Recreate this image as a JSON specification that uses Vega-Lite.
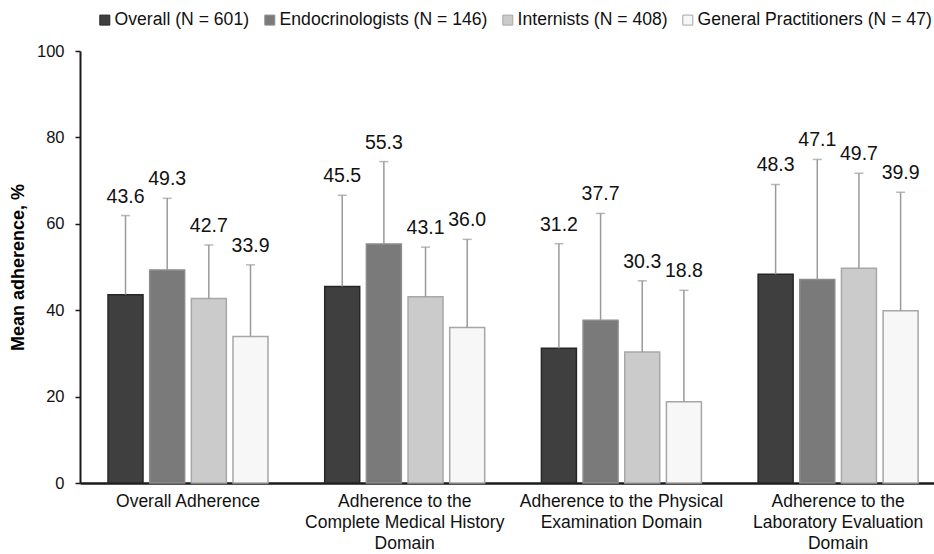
{
  "$schema": "https://vega.github.io/schema/vega-lite/v6.json",
  "width": 854,
  "height": 432,
  "autosize": {"type": "none"},
  "padding": {"left": 80, "top": 51, "right": 0, "bottom": 71},
  "config": {
    "view": {"stroke": null},
    "font": "Liberation Sans",
    "text": {"font": "Liberation Sans"}
  },
  "data": {
    "values": [
      {"domain": "Overall Adherence", "group": "Overall (N = 601)", "value": 43.6, "upper": 61.9},
      {"domain": "Overall Adherence", "group": "Endocrinologists (N = 146)", "value": 49.3, "upper": 65.9},
      {"domain": "Overall Adherence", "group": "Internists (N = 408)", "value": 42.7, "upper": 55.1},
      {"domain": "Overall Adherence", "group": "General Practitioners (N = 47)", "value": 33.9, "upper": 50.5},
      {"domain": "Adherence to the Complete Medical History Domain", "group": "Overall (N = 601)", "value": 45.5, "upper": 66.6},
      {"domain": "Adherence to the Complete Medical History Domain", "group": "Endocrinologists (N = 146)", "value": 55.3, "upper": 74.4},
      {"domain": "Adherence to the Complete Medical History Domain", "group": "Internists (N = 408)", "value": 43.1, "upper": 54.6},
      {"domain": "Adherence to the Complete Medical History Domain", "group": "General Practitioners (N = 47)", "value": 36.0, "upper": 56.4},
      {"domain": "Adherence to the Physical Examination Domain", "group": "Overall (N = 601)", "value": 31.2, "upper": 55.4},
      {"domain": "Adherence to the Physical Examination Domain", "group": "Endocrinologists (N = 146)", "value": 37.7, "upper": 62.4},
      {"domain": "Adherence to the Physical Examination Domain", "group": "Internists (N = 408)", "value": 30.3, "upper": 46.8},
      {"domain": "Adherence to the Physical Examination Domain", "group": "General Practitioners (N = 47)", "value": 18.8, "upper": 44.6},
      {"domain": "Adherence to the Laboratory Evaluation Domain", "group": "Overall (N = 601)", "value": 48.3, "upper": 69.1},
      {"domain": "Adherence to the Laboratory Evaluation Domain", "group": "Endocrinologists (N = 146)", "value": 47.1, "upper": 74.9},
      {"domain": "Adherence to the Laboratory Evaluation Domain", "group": "Internists (N = 408)", "value": 49.7, "upper": 71.7},
      {"domain": "Adherence to the Laboratory Evaluation Domain", "group": "General Practitioners (N = 47)", "value": 39.9, "upper": 67.3}
    ]
  },
  "encoding": {
    "x": {
      "field": "domain",
      "type": "nominal",
      "sort": null,
      "scale": {"paddingInner": 0.2617, "paddingOuter": 0.1013, "align": 0.638},
      "axis": {
        "title": null,
        "labelAngle": 0,
        "ticks": false,
        "tickSize": 0,
        "domainColor": "#1a1a1a",
        "domainWidth": 2.5,
        "labelFont": "Liberation Sans",
        "labelFontSize": 17.5,
        "labelColor": "#111111",
        "labelLineHeight": 21,
        "labelPadding": 9,
        "labelBaseline": "top",
        "labelLimit": 400,
        "labelExpr": "datum.value == 'Overall Adherence' ? 'Overall Adherence' : datum.value == 'Adherence to the Complete Medical History Domain' ? ['Adherence to the', 'Complete Medical History', 'Domain'] : datum.value == 'Adherence to the Physical Examination Domain' ? ['Adherence to the Physical', 'Examination Domain'] : ['Adherence to the', 'Laboratory Evaluation', 'Domain']"
      }
    },
    "xOffset": {
      "field": "group",
      "type": "nominal",
      "sort": null,
      "scale": {"paddingInner": 0.16, "paddingOuter": 0}
    }
  },
  "layer": [
    {
      "mark": {"type": "bar", "strokeWidth": 1.5},
      "encoding": {
        "y": {
          "field": "value",
          "type": "quantitative",
          "scale": {"domain": [0, 100], "nice": false},
          "axis": {
            "title": "Mean adherence, %",
            "titleFont": "Liberation Sans",
            "titleFontSize": 18,
            "titleFontWeight": "bold",
            "titleColor": "#000000",
            "titlePadding": 9,
            "values": [0, 20, 40, 60, 80, 100],
            "grid": false,
            "domainColor": "#1a1a1a",
            "domainWidth": 2,
            "tickColor": "#1a1a1a",
            "tickWidth": 1.5,
            "tickSize": 5,
            "labelFont": "Liberation Sans",
            "labelFontSize": 16.5,
            "labelColor": "#111111",
            "labelPadding": 11
          }
        },
        "fill": {
          "field": "group",
          "type": "nominal",
          "sort": null,
          "scale": {
            "domain": ["Overall (N = 601)", "Endocrinologists (N = 146)", "Internists (N = 408)", "General Practitioners (N = 47)"],
            "range": ["#3f3f3f", "#7a7a7a", "#cbcbcb", "#f7f7f7"]
          },
          "legend": {
            "title": null,
            "orient": "none",
            "direction": "horizontal",
            "legendX": 16,
            "legendY": -40,
            "symbolType": "square",
            "symbolSize": 100,
            "symbolStrokeWidth": 1,
            "labelFont": "Liberation Sans",
            "labelFontSize": 17.6,
            "labelColor": "#111111",
            "labelOffset": 1,
            "columnPadding": 11,
            "labelLimit": 400
          }
        },
        "stroke": {
          "field": "group",
          "type": "nominal",
          "sort": null,
          "scale": {
            "domain": ["Overall (N = 601)", "Endocrinologists (N = 146)", "Internists (N = 408)", "General Practitioners (N = 47)"],
            "range": ["#262626", "#8c8c8c", "#a8a8a8", "#a6a6a6"]
          },
          "legend": {
            "title": null,
            "orient": "none",
            "direction": "horizontal",
            "legendX": 16,
            "legendY": -40,
            "symbolType": "square",
            "symbolSize": 100,
            "symbolStrokeWidth": 1,
            "labelFont": "Liberation Sans",
            "labelFontSize": 17.6,
            "labelColor": "#111111",
            "labelOffset": 1,
            "columnPadding": 11,
            "labelLimit": 400
          }
        }
      }
    },
    {
      "mark": {"type": "rule", "color": "#9a9a9a", "strokeWidth": 1.5},
      "encoding": {
        "y": {"field": "value", "type": "quantitative"},
        "y2": {"field": "upper"}
      }
    },
    {
      "mark": {"type": "tick", "color": "#9a9a9a", "thickness": 1.5, "size": 9},
      "encoding": {
        "y": {"field": "upper", "type": "quantitative"}
      }
    },
    {
      "mark": {"type": "text", "font": "Liberation Sans", "fontSize": 19.5, "color": "#111111", "baseline": "alphabetic", "dy": -13},
      "encoding": {
        "y": {"field": "upper", "type": "quantitative"},
        "text": {"field": "value", "type": "quantitative", "format": ".1f"}
      }
    }
  ]
}
